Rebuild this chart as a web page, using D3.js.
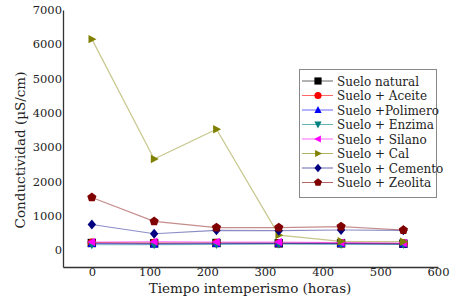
<!DOCTYPE html>
<html>
<head>
<meta charset="utf-8">
<script src="https://cdn.jsdelivr.net/npm/d3@7"></script>
<style>
  body { margin: 0; background: #fff; }
  svg text { font-family: "DejaVu Serif", "Liberation Serif", serif !important; fill: #222; }
</style>
</head>
<body>
<div id="chart"></div>
<script>
// hours of weathering
const horas = [0, 108, 216, 324, 432, 540]

const seriesNames = ["Suelo natural", "Suelo + Aceite", "Suelo +Polimero", "Suelo + Enzima",
                     "Suelo + Silano", "Suelo + Cal", "Suelo + Cemento", "Suelo + Zeolita"]

const natural  = [200, 190, 200, 190, 190, 180]
const aceite   = [210, 200, 200, 195, 195, 185]
const polimero = [180, 170, 180, 190, 180, 170]
const enzima   = [150, 150, 160, 170, 160, 160]
const silano   = [230, 240, 230, 230, 210, 200]
const cal      = [6150, 2650, 3520, 430, 250, 240]
const cemento  = [740, 470, 570, 560, 580, 570]
const zeolita  = [1530, 830, 650, 650, 680, 580]

const xTicks = [0, 100, 200, 300, 400, 500, 600]
const yTicks = [0, 1000, 2000, 3000, 4000, 5000, 6000, 7000]

const allValues = [natural, aceite, polimero, enzima, silano, cal, cemento, zeolita]
const colors = ["#000000", "#ff0000", "#0000ff", "#008080", "#ff00ff", "#808000", "#000080", "#800000"]
const shapes = ["square", "circle", "up", "down", "left", "right", "diamond", "pentagon"]

const W = 460, H = 302
const svg = d3.select("#chart").append("svg")
    .attr("width", W)
    .attr("height", H)

const x = d3.scaleLinear().domain([-50, 600]).range([63, 438])
const y = d3.scaleLinear().domain([-500, 7000]).range([267, 10])

// marker path for a shape, centred at 0,0
function markerPath(shape, r) {
    let pts
    if (shape === "square") pts = [[-r, -r], [r, -r], [r, r], [-r, r]]
    else if (shape === "up") pts = [[0, -r * 1.1], [r, r * 0.8], [-r, r * 0.8]]
    else if (shape === "down") pts = [[0, r * 1.1], [r, -r * 0.8], [-r, -r * 0.8]]
    else if (shape === "left") pts = [[-r * 1.1, 0], [r * 0.8, -r], [r * 0.8, r]]
    else if (shape === "right") pts = [[r * 1.1, 0], [-r * 0.8, -r], [-r * 0.8, r]]
    else if (shape === "diamond") pts = [[0, -r * 1.2], [r, 0], [0, r * 1.2], [-r, 0]]
    else if (shape === "pentagon") pts = d3.range(5).map(i => {
        let a = -Math.PI / 2 + i * 2 * Math.PI / 5
        return [Math.cos(a) * r * 1.15, Math.sin(a) * r * 1.15]
    })
    if (shape === "circle") {
        return d3.arc()({innerRadius: 0, outerRadius: r, startAngle: 0, endAngle: 2 * Math.PI})
    }
    return "M" + pts.map(p => p.join(",")).join("L") + "Z"
}

// axes
const xAxis = svg.append("g")
    .attr("transform", `translate(0,${y(-500)})`)
    .call(d3.axisBottom(x).tickValues(xTicks).tickFormat(d3.format("d")).tickSize(0).tickPadding(1))
const yAxis = svg.append("g")
    .attr("transform", `translate(${x(-50)},0)`)
    .call(d3.axisLeft(y).tickValues(yTicks).tickFormat(d3.format("d")).tickSize(0).tickPadding(1))

;[xAxis, yAxis].forEach(g => {
    g.select(".domain").attr("stroke", "#333").attr("stroke-width", 1.3)
    g.selectAll("text").attr("font-size", 11.5).attr("fill", "#222")
})

svg.append("text")
    .attr("x", 250).attr("y", 293)
    .attr("text-anchor", "middle")
    .attr("font-size", 13.5)
    .text("Tiempo intemperismo (horas)")

svg.append("text")
    .attr("transform", "translate(25,150) rotate(-90)")
    .attr("text-anchor", "middle")
    .attr("font-size", 13.5)
    .text("Conductividad (µS/cm)")

// lines and markers
const line = d3.line().x((d, i) => x(horas[i])).y(d => y(d))

allValues.forEach((vals, k) => {
    let g = svg.append("g")
    g.append("path")
        .attr("d", line(vals))
        .attr("fill", "none")
        .attr("stroke", colors[k])
        .attr("stroke-opacity", 0.45)
        .attr("stroke-width", 1.2)
    g.selectAll("path.mk")
        .data(vals)
        .enter()
        .append("path")
        .attr("class", "mk")
        .attr("transform", (d, i) => `translate(${x(horas[i])},${y(d)})`)
        .attr("d", markerPath(shapes[k], 4.2))
        .attr("fill", colors[k])
})

// legend
const legend = svg.append("g")
legend.append("rect")
    .attr("x", 299.5).attr("y", 69.5)
    .attr("width", 137).attr("height", 128)
    .attr("fill", "#fff")
    .attr("stroke", "#888")

seriesNames.forEach((name, k) => {
    let ly = 81 + k * 14.5
    legend.append("line")
        .attr("x1", 302).attr("x2", 333)
        .attr("y1", ly).attr("y2", ly)
        .attr("stroke", colors[k])
        .attr("stroke-opacity", 0.6)
    legend.append("path")
        .attr("transform", `translate(318,${ly})`)
        .attr("d", markerPath(shapes[k], 3.6))
        .attr("fill", colors[k])
    legend.append("text")
        .attr("x", 337).attr("y", ly + 4.5)
        .attr("font-size", 12)
        .text(name)
})
</script>
</body>
</html>
